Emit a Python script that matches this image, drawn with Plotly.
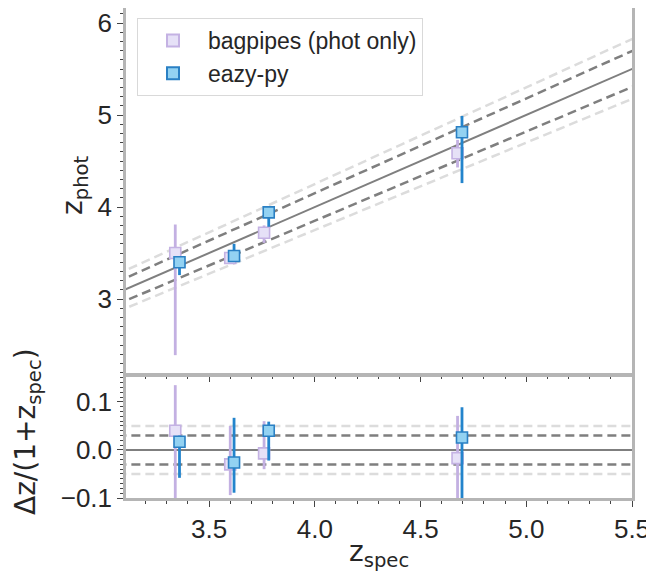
import plotly.graph_objects as go

# ---- data ----
bag_x_top = [3.34, 3.60, 3.76, 4.675]
bag_z = [3.50, 3.446, 3.72, 4.584]
bag_hi = [3.81, 3.50, 3.80, 4.73]
bag_lo = [2.39, 3.40, 3.61, 4.43]

eazy_x_top = [3.36, 3.618, 3.782, 4.696]
eazy_z = [3.40, 3.467, 3.942, 4.812]
eazy_hi = [3.44, 3.60, 4.003, 4.99]
eazy_lo = [3.26, 3.44, 3.786, 4.26]

bag_dz = [0.040, -0.030, -0.007, -0.017]
bag_dz_hi = [0.135, 0.050, 0.060, 0.071]
bag_dz_lo = [-0.16, -0.094, -0.040, -0.16]

eazy_dz = [0.017, -0.026, 0.040, 0.026]
eazy_dz_hi = [0.030, 0.067, 0.059, 0.089]
eazy_dz_lo = [-0.058, -0.089, -0.022, -0.16]

line_x = [3.0, 5.6]
inner_band = 0.03
outer_band = 0.05

x_range = [3.107, 5.5]
top_y_range = [2.196, 6.163]
bot_y_range = [-0.1, 0.152]

BAG_FILL = "#e6e1f7"
BAG_EDGE = "#c4b2e3"
BAG_ERR = "#c3b0e2"
EZ_FILL = "#93d2f2"
EZ_EDGE = "#2a80c4"
EZ_ERR = "#2384cc"
FRAME = "#b5b5b5"

fig = go.Figure()

def band_lines(k, color, xa, ya, top):
    for s in (1, -1):
        if top:
            y = [x + s * k * (1 + x) for x in line_x]
        else:
            y = [s * k for _ in line_x]
        fig.add_trace(go.Scatter(x=line_x, y=y, mode="lines", xaxis=xa, yaxis=ya,
                                 line=dict(color=color, width=2.5, dash="9px,5px"),
                                 showlegend=False, hoverinfo="skip"))

for xa, ya, top in (("x", "y", True), ("x2", "y2", False)):
    band_lines(outer_band, "#dcdcdc", xa, ya, top)
    band_lines(inner_band, "#7f7f7f", xa, ya, top)
    fig.add_trace(go.Scatter(x=line_x, y=(line_x if top else [0, 0]), mode="lines",
                             xaxis=xa, yaxis=ya, line=dict(color="#7f7f7f", width=2),
                             showlegend=False, hoverinfo="skip"))

def series(x, y, hi, lo, fill, edge, err, name, xa, ya, legend):
    fig.add_trace(go.Scatter(
        x=x, y=y, mode="markers", name=name, xaxis=xa, yaxis=ya, showlegend=legend,
        marker=dict(symbol="square", size=11, color=fill, line=dict(color=edge, width=1.6)),
        error_y=dict(type="data", symmetric=False,
                     array=[h - v for h, v in zip(hi, y)],
                     arrayminus=[v - l for l, v in zip(lo, y)],
                     color=err, thickness=2.8, width=0)))

series(bag_x_top, bag_z, bag_hi, bag_lo, BAG_FILL, BAG_EDGE, BAG_ERR, "bagpipes (phot only)", "x", "y", True)
series(eazy_x_top, eazy_z, eazy_hi, eazy_lo, EZ_FILL, EZ_EDGE, EZ_ERR, "eazy-py", "x", "y", True)
series(bag_x_top, bag_dz, bag_dz_hi, bag_dz_lo, BAG_FILL, BAG_EDGE, BAG_ERR, "bagpipes (phot only)", "x2", "y2", False)
series(eazy_x_top, eazy_dz, eazy_dz_hi, eazy_dz_lo, EZ_FILL, EZ_EDGE, EZ_ERR, "eazy-py", "x2", "y2", False)

tickfont = dict(family="Liberation Sans, Arial, sans-serif", size=26, color="#262626")
axis_common = dict(showline=True, mirror=True, linecolor=FRAME, linewidth=2.5,
                   showgrid=False, zeroline=False, ticks="outside", ticklen=6,
                   tickwidth=1.2, tickcolor="#444444", tickfont=tickfont, automargin=False)

# the page body adds an 8px offset; figure coordinates = screen coordinates - 8
OFF = 8
W, H = 654 - OFF, 580 - OFF
L, R = 126 - OFF, 632 - OFF
top_px, mid1, mid2, bot_px = 0, 373 - OFF, 377 - OFF, 498 - OFF
plot_h = bot_px - top_px
plot_w = R - L

def px(sx):
    return (sx - OFF - L) / plot_w

def py(sy):
    return 1 - (sy - OFF - top_px) / plot_h

fig.update_layout(
    width=W, height=H,
    margin=dict(l=L, r=W - R, t=top_px, b=H - bot_px, autoexpand=False),
    paper_bgcolor="white", plot_bgcolor="white",
    xaxis=dict(range=x_range, domain=[0, 1], anchor="y", matches="x2", showticklabels=False,
               dtick=0.5, minor=dict(dtick=0.1, ticks="outside", ticklen=3, tickcolor="#444444"),
               **axis_common),
    yaxis=dict(range=top_y_range, domain=[(bot_px - mid1) / plot_h, 1], anchor="x",
               tickvals=[3, 4, 5, 6],
               minor=dict(dtick=0.1, ticks="outside", ticklen=3, tickcolor="#444444"),
               **axis_common),
    xaxis2=dict(range=x_range, domain=[0, 1], anchor="y2", tickvals=[3.5, 4.0, 4.5, 5.0, 5.5],
                ticktext=["3.5", "4.0", "4.5", "5.0", "5.5"],
                minor=dict(dtick=0.1, ticks="outside", ticklen=3, tickcolor="#444444"),
                **axis_common),
    yaxis2=dict(range=bot_y_range, domain=[0, (bot_px - mid2) / plot_h], anchor="x2",
                tickvals=[-0.1, 0.0, 0.1], ticktext=["\u22120.1", "0.0", "0.1"],
                minor=dict(dtick=0.01, ticks="outside", ticklen=3, tickcolor="#444444"),
                **axis_common),
    legend=dict(x=px(137), y=py(18), xanchor="left", yanchor="top",
                bgcolor="white", bordercolor="#d9d9d9", borderwidth=1,
                font=dict(family="Liberation Sans, Arial, sans-serif", size=23, color="#262626"),
                itemsizing="constant", itemwidth=60, tracegroupgap=0),
    showlegend=True,
)

labfont = dict(family="DejaVu Sans, sans-serif", size=28, color="#262626")
fig.add_annotation(text="z<sub>phot</sub>", xref="paper", yref="paper",
                   x=px(74), y=py(185), textangle=-90,
                   showarrow=False, font=labfont, xanchor="center", yanchor="middle")
fig.add_annotation(text="\u0394z/(1+z<sub>spec</sub>)", xref="paper", yref="paper",
                   x=px(27), y=py(432), textangle=-90,
                   showarrow=False, font=labfont, xanchor="center", yanchor="middle")
fig.add_annotation(text="z<sub>spec</sub>", xref="paper", yref="paper",
                   x=0.5, y=py(553), showarrow=False, font=labfont,
                   xanchor="center", yanchor="middle")

fig.write_html("out.html")
